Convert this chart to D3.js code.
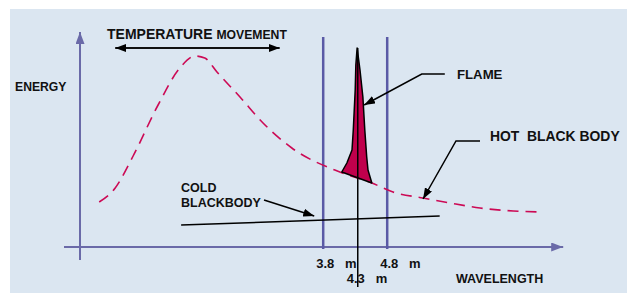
<!DOCTYPE html>
<html>
<head>
<script src="https://cdn.jsdelivr.net/npm/d3@7"></script>
<style>
  body { margin: 0; background: #fff; }
  text { font-family: "Liberation Sans", Arial, sans-serif; font-weight: bold; fill: #111; white-space: pre; }
</style>
</head>
<body>
<svg width="627" height="293"></svg>
<script>
  // wavelength (um) vs energy (arbitrary units)
  const hotWavelength = [0.30, 0.55, 0.83, 1.22, 1.56, 1.80, 1.95, 2.14, 2.50, 2.86, 3.31, 4.06, 4.56, 4.89, 5.36, 5.78, 6.25, 6.77, 7.23];
  const hotEnergy     = [22.5, 29.5, 45.5, 71.0, 89.5, 95.5, 94.5, 87.5, 75.0, 62.0, 49.5, 37.5, 32.0, 27.5, 24.5, 22.0, 19.5, 18.0, 17.5];

  const flameWavelength = [4.33, 4.375, 4.42, 4.45, 4.48, 4.50, 4.56, 4.09, 4.17, 4.25, 4.27, 4.30, 4.31];
  const flameEnergy     = [99.5, 88.5, 75.0, 58.5, 45.0, 38.5, 32.0, 37.5, 42.0, 48.5, 58.5, 78.5, 91.0];

  const coldWavelength = [1.58, 5.62];
  const coldEnergy = [11, 15.5];

  const bandEdges = [3.8, 4.8];
  const bandLabels = ['3.8   m', '4.8   m'];
  const flamePeak = 4.34;
  const flameLabel = '4.3   m';

  const svg = d3.select('svg');

  svg.append('rect')
    .attr('x', 10).attr('y', 9)
    .attr('width', 617).attr('height', 284)
    .attr('fill', '#dbe6f1');

  const x = d3.scaleLinear().domain([0, 1]).range([80, 144]);
  const y = d3.scaleLinear().domain([0, 100]).range([247, 47]);

  const defs = svg.append('defs');
  function marker(id, color, w, h) {
    defs.append('marker')
      .attr('id', id)
      .attr('viewBox', `0 0 ${w} ${h}`)
      .attr('refX', w).attr('refY', h / 2)
      .attr('markerWidth', w).attr('markerHeight', h)
      .attr('markerUnits', 'userSpaceOnUse')
      .attr('orient', 'auto-start-reverse')
      .append('path')
      .attr('d', `M0,0L${w},${h / 2}L0,${h}z`)
      .attr('fill', color);
  }
  marker('axisHead', '#6a6aa8', 12, 9);
  marker('blackHead', '#000', 11, 8);

  const line = d3.line().x(d => x(d[0])).y(d => y(d[1]));

  // axes
  svg.append('path')
    .attr('d', line([[0, -6.5], [0, 107.5]]))
    .attr('stroke', '#6a6aa8').attr('stroke-width', 2).attr('fill', 'none')
    .attr('marker-end', 'url(#axisHead)');
  svg.append('path')
    .attr('d', line([[-0.25, 0], [7.55, 0]]))
    .attr('stroke', '#6a6aa8').attr('stroke-width', 2).attr('fill', 'none')
    .attr('marker-end', 'url(#axisHead)');

  // band edges
  svg.selectAll('.band')
    .data(bandEdges)
    .enter()
    .append('line')
    .attr('x1', d => x(d)).attr('x2', d => x(d))
    .attr('y1', y(105)).attr('y2', y(-1))
    .attr('stroke', '#5a5aa6').attr('stroke-width', 2.5);

  svg.selectAll('.bandLabel')
    .data(bandEdges)
    .enter()
    .append('text')
    .attr('x', d => x(d) - 7)
    .attr('y', 268)
    .style('font-size', '13px')
    .text((d, i) => bandLabels[i]);

  // hot black body curve
  const hotPts = hotWavelength.map((w, i) => [w, hotEnergy[i]]);
  svg.append('path')
    .attr('d', d3.line().x(d => x(d[0])).y(d => y(d[1])).curve(d3.curveMonotoneX)(hotPts))
    .attr('fill', 'none')
    .attr('stroke', '#cc0a55')
    .attr('stroke-width', 1.6)
    .attr('stroke-dasharray', '11,7');

  // flame
  const flamePts = flameWavelength.map((w, i) => [w, flameEnergy[i]]);
  svg.append('path')
    .attr('d', line(flamePts) + 'Z')
    .attr('fill', '#c0004c')
    .attr('stroke', '#000')
    .attr('stroke-width', 1.5)
    .attr('stroke-linejoin', 'round');
  svg.append('path')
    .attr('d', line([[flamePeak, 99.5], [flamePeak, -20]]))
    .attr('stroke', '#000').attr('stroke-width', 1.5);

  svg.append('text')
    .attr('x', x(flamePeak) - 11)
    .attr('y', 283)
    .style('font-size', '13px')
    .text(flameLabel);

  // cold black body
  const coldPts = coldWavelength.map((w, i) => [w, coldEnergy[i]]);
  svg.append('path')
    .attr('d', line(coldPts))
    .attr('stroke', '#000').attr('stroke-width', 1.5);

  // annotation arrows
  const arrows = [
    [[5.70, 86.5], [5.34, 86.5], [4.44, 71]],
    [[6.25, 53], [5.875, 53], [5.36, 24]],
    [[2.875, 23.5], [3.66, 15.5]]
  ];
  svg.selectAll('.arrow')
    .data(arrows)
    .enter()
    .append('path')
    .attr('d', d => line(d))
    .attr('fill', 'none')
    .attr('stroke', '#000').attr('stroke-width', 1.5)
    .attr('marker-end', 'url(#blackHead)');

  svg.append('path')
    .attr('d', line([[0.55, 99.5], [3.12, 99.5]]))
    .attr('stroke', '#111').attr('stroke-width', 2)
    .attr('marker-start', 'url(#blackHead)')
    .attr('marker-end', 'url(#blackHead)');

  // labels
  const t1 = svg.append('text').attr('x', 107).attr('y', 39);
  t1.append('tspan').style('font-size', '14px').text('TEMPERATURE ');
  t1.append('tspan').style('font-size', '12.2px').text('MOVEMENT');

  svg.append('text').attr('x', 15).attr('y', 91).style('font-size', '12.2px').text('ENERGY');
  svg.append('text').attr('x', 457).attr('y', 79).style('font-size', '13.2px').text('FLAME');
  svg.append('text').attr('x', 490).attr('y', 141).style('font-size', '13.9px').text('HOT  BLACK BODY');
  svg.append('text').attr('x', 181).attr('y', 192).style('font-size', '12.5px').text('COLD');
  svg.append('text').attr('x', 181).attr('y', 207).style('font-size', '12.5px').text('BLACKBODY');
  svg.append('text').attr('x', 456).attr('y', 283).style('font-size', '12.5px').text('WAVELENGTH');
</script>
</body>
</html>
